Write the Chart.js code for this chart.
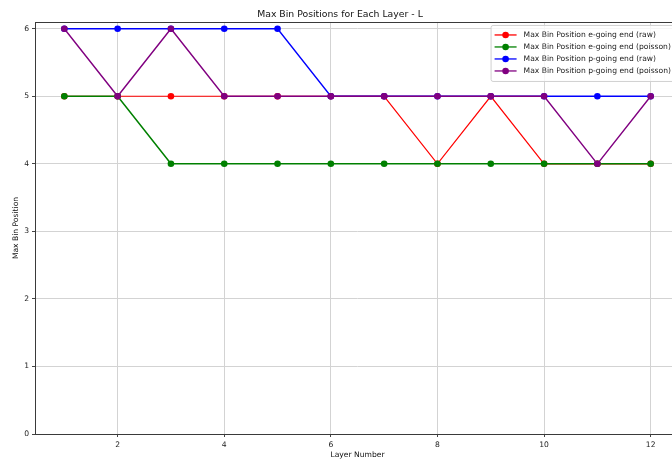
<!DOCTYPE html>
<html>
<head>
<meta charset="utf-8">
<script src="https://cdn.jsdelivr.net/npm/chart.js@4/dist/chart.umd.min.js"></script>
<style>
  html, body { margin: 0; padding: 0; background: #fff; overflow: hidden; }
  #wrap { width: 700px; height: 459px; }
</style>
</head>
<body>
<div id="wrap"><canvas id="c" width="700" height="459"></canvas></div>
<script>
// Layer numbers and the max bin position found for each layer
const layers = [1, 2, 3, 4, 5, 6, 7, 8, 9, 10, 11, 12];
const eRaw     = [5, 5, 5, 5, 5, 5, 5, 4, 5, 4, 4, 4];
const ePoisson = [5, 5, 4, 4, 4, 4, 4, 4, 4, 4, 4, 4];
const pRaw     = [6, 6, 6, 6, 6, 5, 5, 5, 5, 5, 5, 5];
const pPoisson = [6, 5, 6, 5, 5, 5, 5, 5, 5, 5, 4, 5];

// Axis tick positions
const xTicks = [2, 4, 6, 8, 10, 12];
const yTicks = [0, 1, 2, 3, 4, 5, 6];

const seriesNames = [
  'Max Bin Position e-going end (raw)',
  'Max Bin Position e-going end (poisson)',
  'Max Bin Position p-going end (raw)',
  'Max Bin Position p-going end (poisson)'
];
const seriesColors = ['#ff0000', '#008000', '#0000ff', '#800080'];
const seriesWidths = [1.2, 1.55, 1.35, 1.4];
const seriesValues = [eRaw, ePoisson, pRaw, pPoisson];

const FONT = 'DejaVu Sans';
const SMALL = 7.6;

function toPoints(vals) {
  return layers.map((x, i) => ({ x: x, y: vals[i] }));
}

const datasets = seriesValues.map((vals, i) => ({
  label: seriesNames[i],
  data: toPoints(vals),
  borderColor: seriesColors[i],
  backgroundColor: seriesColors[i],
  pointBackgroundColor: seriesColors[i],
  pointBorderColor: seriesColors[i],
  borderWidth: seriesWidths[i],
  pointRadius: 3.3,
  pointBorderWidth: 0,
  pointHoverRadius: 3.3,
  tension: 0,
  fill: false,
  clip: false,
  order: seriesValues.length - i
}));

// Frame around the plotting area
const framePlugin = {
  id: 'frame',
  afterDatasetsDraw(chart) {
    const { ctx, chartArea: a } = chart;
    ctx.save();
    ctx.strokeStyle = '#3a3a3a';
    ctx.lineWidth = 1;
    ctx.strokeRect(Math.round(a.left) + 0.5, Math.round(a.top) + 0.5,
                   Math.round(a.right - a.left), Math.round(a.bottom - a.top));
    ctx.restore();
  }
};

// Legend box drawn inside the upper right corner of the plot
const insideLegend = {
  id: 'insideLegend',
  afterDraw(chart) {
    const { ctx, chartArea: a } = chart;
    ctx.save();
    ctx.font = SMALL + 'px "' + FONT + '"';
    let maxW = 0;
    seriesNames.forEach(n => { maxW = Math.max(maxW, ctx.measureText(n).width); });
    const handle = 22, padL = 4, gap = 7, padR = 4, rowH = 12, padT = 4;
    const w = padL + handle + gap + maxW + padR;
    const h = padT * 2 + rowH * seriesNames.length;
    const right = a.right - 5;
    const left = right - w;
    const top = a.top + 3;
    ctx.fillStyle = 'rgba(255,255,255,0.8)';
    ctx.strokeStyle = '#d0d0d0';
    ctx.lineWidth = 1;
    ctx.beginPath();
    ctx.roundRect(left + 0.5, top + 0.5, w, h, 2);
    ctx.fill();
    ctx.stroke();
    seriesNames.forEach((n, i) => {
      const cy = top + padT + rowH * i + rowH / 2;
      const x0 = left + padL;
      ctx.strokeStyle = seriesColors[i];
      ctx.lineWidth = 1.3;
      ctx.beginPath();
      ctx.moveTo(x0, cy);
      ctx.lineTo(x0 + handle, cy);
      ctx.stroke();
      ctx.fillStyle = seriesColors[i];
      ctx.beginPath();
      ctx.arc(x0 + handle / 2, cy, 3.3, 0, Math.PI * 2);
      ctx.fill();
      ctx.fillStyle = '#222';
      ctx.textBaseline = 'middle';
      ctx.textAlign = 'left';
      ctx.fillText(n, x0 + handle + gap, cy + 0.5);
    });
    ctx.restore();
  }
};

new Chart(document.getElementById('c'), {
  type: 'line',
  data: { datasets: datasets },
  plugins: [framePlugin, insideLegend],
  options: {
    responsive: false,
    animation: false,
    devicePixelRatio: 1,
    layout: { padding: { left: 0, right: 20, top: 0, bottom: 0 } },
    plugins: {
      legend: { display: false },
      tooltip: { enabled: false },
      title: {
        display: true,
        text: 'Max Bin Positions for Each Layer - L',
        color: '#111',
        font: { family: FONT, size: 9.3, weight: 'normal', lineHeight: 1.2 },
        padding: { top: 9, bottom: 1.8 }
      }
    },
    scales: {
      x: {
        type: 'linear',
        min: 0.45,
        max: 12.55,
        afterBuildTicks(scale) { scale.ticks = xTicks.map(v => ({ value: v })); },
        ticks: {
          color: '#222',
          font: { family: FONT, size: SMALL },
          padding: 3,
          maxRotation: 0
        },
        grid: { color: '#d3d3d3', lineWidth: 1, tickLength: 3, tickColor: '#444' },
        border: { display: false },
        title: {
          display: true,
          text: 'Layer Number',
          color: '#111',
          font: { family: FONT, size: SMALL, lineHeight: 1.0 },
          padding: { top: 0, bottom: 0 }
        },
        afterFit(scale) { scale.height = 25; }
      },
      y: {
        type: 'linear',
        min: 0,
        max: 6.1,
        afterBuildTicks(scale) { scale.ticks = yTicks.map(v => ({ value: v })); },
        ticks: {
          color: '#222',
          font: { family: FONT, size: SMALL },
          padding: 3
        },
        grid: { color: '#d3d3d3', lineWidth: 1, tickLength: 3, tickColor: '#444' },
        border: { display: false },
        title: {
          display: true,
          text: 'Max Bin Position',
          color: '#111',
          font: { family: FONT, size: SMALL },
          padding: { top: 11, bottom: 0 }
        },
        afterFit(scale) { scale.width = 35; }
      }
    }
  }
});
</script>
</body>
</html>
